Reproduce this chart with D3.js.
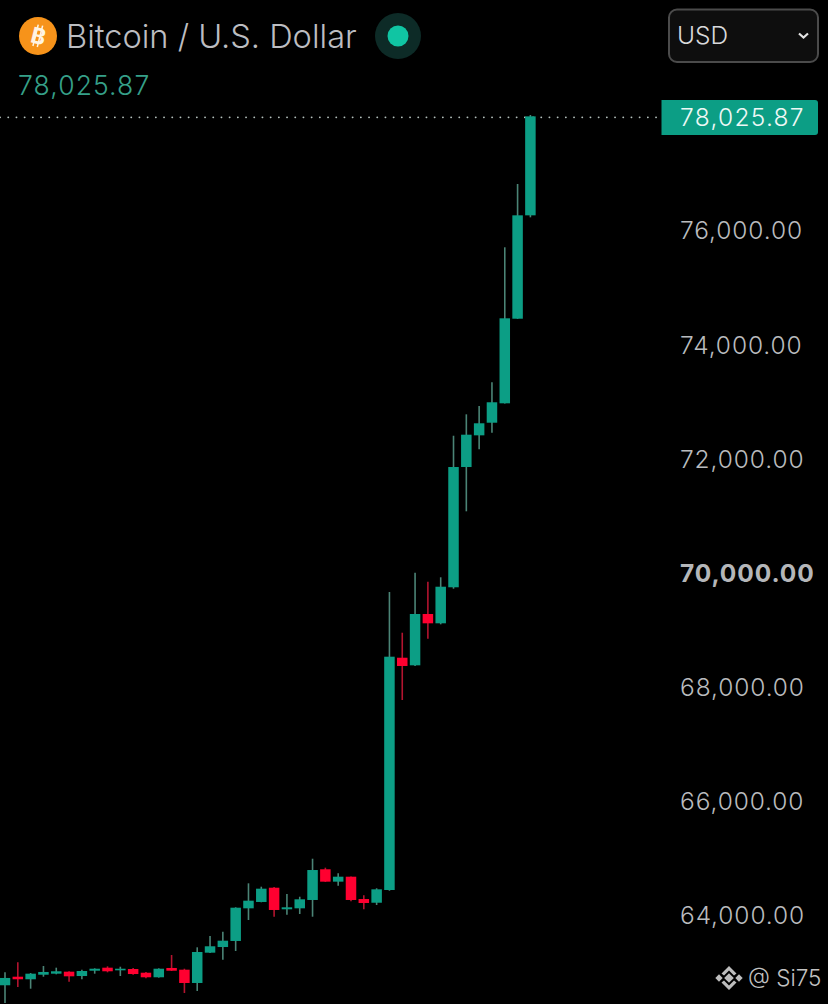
<!DOCTYPE html>
<html>
<head>
<meta charset="utf-8">
<script src="https://cdn.jsdelivr.net/npm/d3@7"></script>
<style>
  html, body { margin: 0; padding: 0; background: #000; }
  svg { display: block; }
  text { font-family: Inter, "Noto Sans", sans-serif; }
</style>
</head>
<body>
<div id="chart"></div>
<script>
const opens = [62804, 62954, 62909, 62989, 63007, 63042, 62966, 63059, 63112, 63066, 63089, 63024, 62944, 63107,
  63077, 62844, 63375, 63474, 63580, 64152, 64263, 64513, 64135, 64152, 64298, 64836, 64619, 64706, 64315, 64250,
  64473, 68542, 68409, 69308, 69145, 69776, 71883, 72438, 72659, 72999, 74481, 76292];
const highs = [63031, 63206, 63019, 63142, 63112, 63049, 63077, 63101, 63136, 63129, 63107, 63037, 63101, 63334,
  63094, 63469, 63667, 63742, 64170, 64590, 64531, 64525, 64403, 64355, 65021, 64864, 64765, 64710, 64380, 64503,
  69693, 68980, 70031, 69874, 69951, 72431, 72806, 72952, 73367, 75732, 76841, 78050];
const lows = [62494, 62774, 62744, 62954, 62996, 62867, 62909, 63007, 63031, 62966, 62989, 62926, 62938, 63054,
  62669, 62704, 63369, 63252, 63404, 63947, 64258, 64005, 64040, 64053, 64005, 64614, 64548, 64275, 64135, 64210,
  64461, 67801, 68397, 68875, 69127, 69751, 71107, 72193, 72484, 72995, 74478, 76257];
const closes = [62932, 62909, 63007, 63037, 63049, 62961, 63054, 63094, 63049, 63094, 63001, 62944, 63094, 63059,
  62844, 63387, 63487, 63585, 64163, 64286, 64496, 64123, 64170, 64310, 64823, 64619, 64706, 64298, 64245, 64485,
  68560, 68397, 69308, 69145, 69786, 71883, 72449, 72649, 73017, 74488, 76292, 78025.87];
const priceTicks = [64000, 66000, 68000, 70000, 72000, 74000, 76000];
const boldTick = 70000;
const lastPrice = 78025.87;
const title = "Bitcoin / U.S. Dollar";
const currency = "USD";
const watermark = "@ Si75";

const width = 828;
const height = 1004;
const green = "#0c9e85";
const greenWick = "#4b8476";
const red = "#ff0030";
const redWick = "#b3142f";
const bodyWidth = 10.5;

const fmt = d3.format(",.2f");

const svg = d3.select("#chart").append("svg")
  .attr("width", width)
  .attr("height", height);

const x = d3.scaleLinear().domain([0, opens.length - 1]).range([5, 530.4]);
const y = d3.scaleLinear().domain([64000, 76000]).range([917, 232]);

const candles = opens.map((o, i) => ({ i, o, h: highs[i], l: lows[i], c: closes[i], up: closes[i] >= o }));

// last price line sits under the candles
svg.append("line")
  .attr("x1", 0).attr("x2", 660)
  .attr("y1", y(lastPrice) + 1).attr("y2", y(lastPrice) + 1)
  .attr("stroke", "#b4c0bc")
  .attr("stroke-width", 1.8)
  .attr("stroke-linecap", "round")
  .attr("stroke-dasharray", "0.1 8.1");

const candle = svg.append("g").selectAll("g")
  .data(candles)
  .enter().append("g");

candle.append("line")
  .attr("x1", d => x(d.i)).attr("x2", d => x(d.i))
  .attr("y1", d => y(d.h)).attr("y2", d => y(d.l))
  .attr("stroke", d => d.up ? greenWick : redWick)
  .attr("stroke-width", 1.6);

candle.append("rect")
  .attr("x", d => x(d.i) - bodyWidth / 2)
  .attr("y", d => y(Math.max(d.o, d.c)))
  .attr("width", bodyWidth)
  .attr("height", d => Math.max(1.5, Math.abs(y(d.o) - y(d.c))))
  .attr("fill", d => d.up ? green : red);

// price axis
const axis = svg.append("g")
  .attr("transform", "translate(680,0)")
  .call(d3.axisRight(y).tickValues(priceTicks).tickFormat(fmt).tickSize(0).tickPadding(0));
axis.select(".domain").remove();
axis.selectAll("text")
  .attr("x", 0)
  .attr("dy", "0.32em")
  .attr("y", -1)
  .attr("fill", d => d === boldTick ? "#b4b6b9" : "#b9bbbe")
  .style("font-family", "Inter, sans-serif")
  .style("font-size", "24.5px")
  .style("font-weight", d => d === boldTick ? 700 : 300)
  .style("letter-spacing", "0.9px");

// last price tag
svg.append("path")
  .attr("d", "M661.5,100 H815 a3,3 0 0 1 3,3 V132 a3,3 0 0 1 -3,3 H661.5 Z")
  .attr("fill", green);
svg.append("text")
  .attr("x", 680).attr("y", y(lastPrice) + 0.5)
  .attr("dy", "0.36em")
  .attr("fill", "#eef8f5")
  .style("font-size", "24.5px")
  .style("font-weight", 300)
  .style("letter-spacing", "1.3px")
  .text(fmt(lastPrice));

// header
svg.append("circle").attr("cx", 38).attr("cy", 36).attr("r", 19).attr("fill", "#f7931a");
const coin = svg.append("g").attr("transform", "translate(38.5,36) rotate(14)");
coin.append("text")
  .attr("text-anchor", "middle").attr("dy", "0.36em")
  .attr("fill", "#fff4e3")
  .style("font-size", "22px").style("font-weight", 700)
  .text("B");
coin.selectAll("line.bar").data([-3, 1.5]).enter().append("line")
  .attr("class", "bar")
  .attr("x1", d => d).attr("x2", d => d)
  .attr("y1", -11).attr("y2", 11)
  .attr("stroke", "#fff4e3").attr("stroke-width", 1.5);

svg.append("text")
  .attr("x", 66).attr("y", 47.5)
  .attr("fill", "#bcbdc1")
  .style("font-size", "32.6px")
  .style("font-weight", 300)
  .text(title);

svg.append("circle").attr("cx", 398).attr("cy", 36).attr("r", 23).attr("fill", "#0d2b27");
svg.append("circle").attr("cx", 398).attr("cy", 36).attr("r", 10.5).attr("fill", "#10c5a3");

svg.append("text")
  .attr("x", 18).attr("y", 94.5)
  .attr("fill", "#36a089")
  .style("font-size", "26.5px")
  .style("font-weight", 300)
  .style("letter-spacing", "1.1px")
  .text(fmt(lastPrice));

// currency select
svg.append("rect")
  .attr("x", 669).attr("y", 9.5)
  .attr("width", 149).attr("height", 52.5).attr("rx", 8)
  .attr("fill", "#0e0e0e").attr("stroke", "#4b4b4b").attr("stroke-width", 2);
svg.append("text")
  .attr("x", 677).attr("y", 44)
  .attr("fill", "#d9d9db")
  .style("font-size", "24.5px")
  .style("font-weight", 300)
  .text(currency);
svg.append("path")
  .attr("d", "M799,33.5 L803.5,37.5 L808,33.5")
  .attr("fill", "none").attr("stroke", "#e4e4e4").attr("stroke-width", 2.2);

// watermark
const logo = svg.append("g").attr("transform", "translate(729,978)").attr("fill", "#bdbdbd");
logo.selectAll("rect").data([[-10, 0, 2.6], [10, 0, 2.6], [0, 0, 3.4]]).enter().append("rect")
  .attr("x", d => d[0] - d[2]).attr("y", d => d[1] - d[2])
  .attr("width", d => d[2] * 2).attr("height", d => d[2] * 2)
  .attr("transform", d => `rotate(45 ${d[0]} ${d[1]})`);
logo.selectAll("path").data([1, -1]).enter().append("path")
  .attr("d", d => `M-7.5,${-4.5 * d} L0,${-12 * d} L7.5,${-4.5 * d} L5,${-2.5 * d} L0,${-7.5 * d} L-5,${-2.5 * d} Z`);

svg.append("text")
  .attr("x", 748).attr("y", 986)
  .attr("fill", "#c2c2c2")
  .style("font-size", "22.5px")
  .style("font-weight", 300)
  .text(watermark);
</script>
</body>
</html>
